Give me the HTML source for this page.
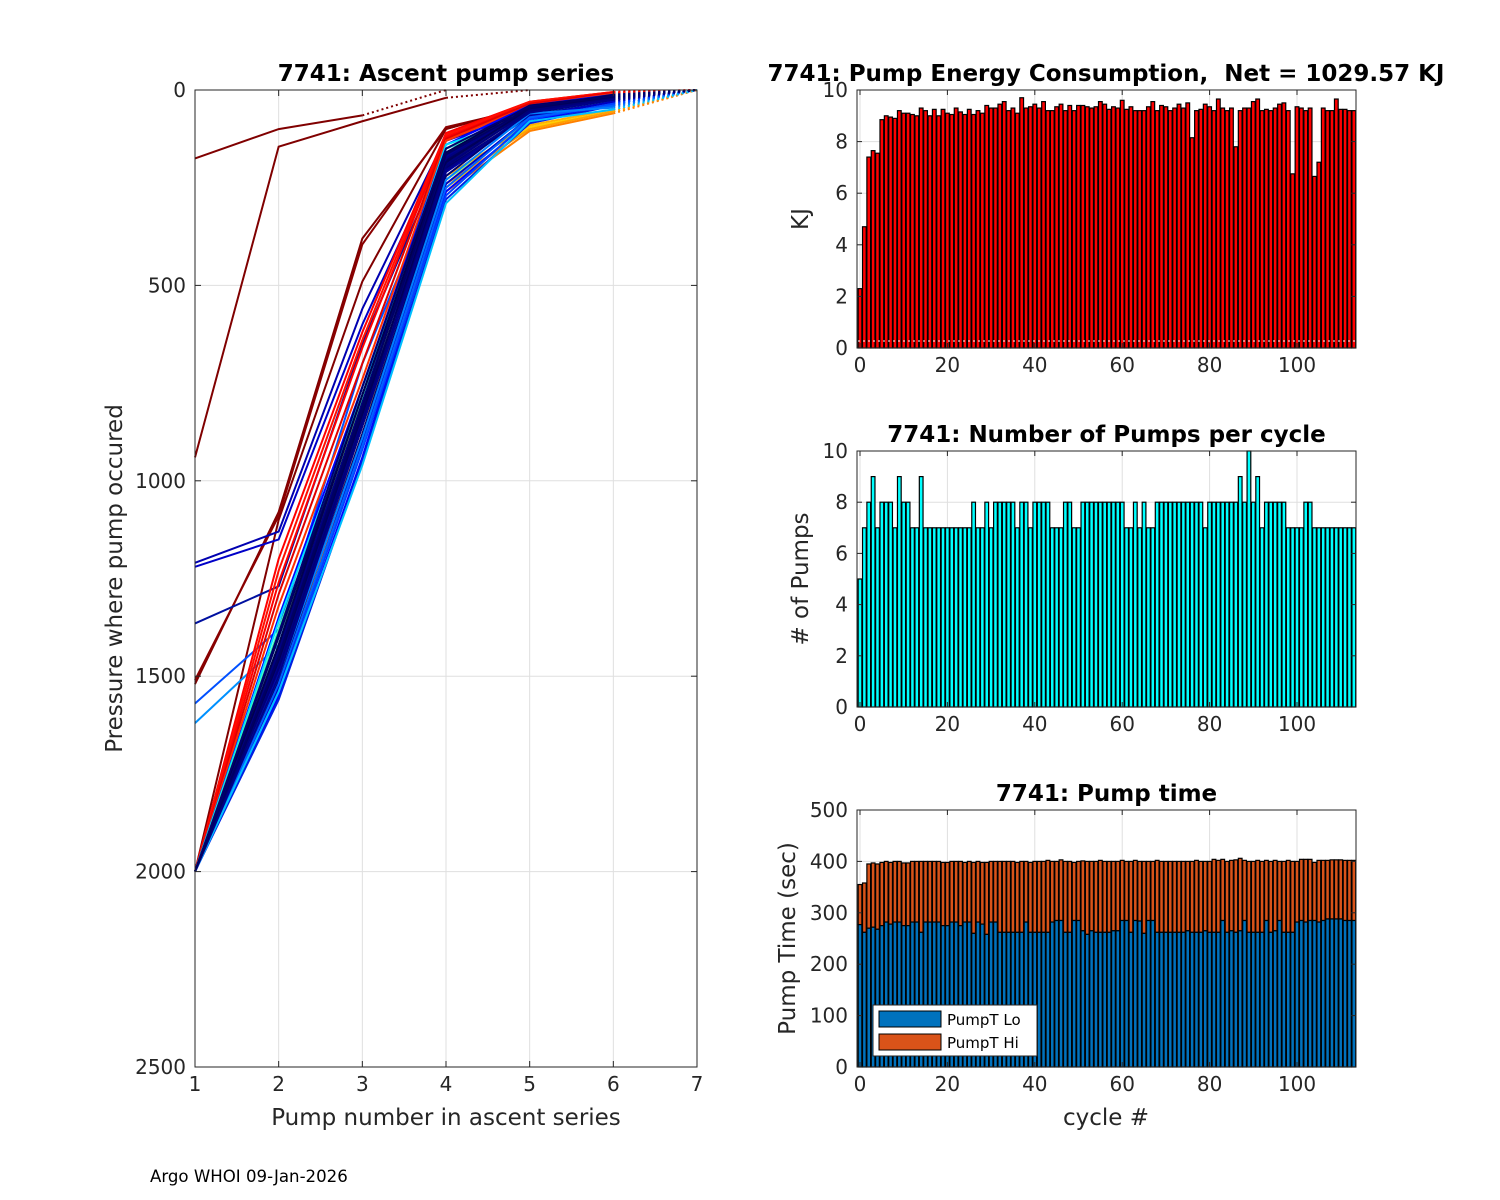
<!DOCTYPE html>
<html><head><meta charset="utf-8">
<style>
body{margin:0;background:#fff;}
svg{display:block;font-family:"DejaVu Sans","Liberation Sans",sans-serif;}
.tk{font-size:20px;fill:#262626;}
.tt{font-size:23px;font-weight:bold;fill:#000;}
.lb{font-size:23px;fill:#262626;}
</style></head>
<body>
<svg id="fig" width="1500" height="1200" viewBox="0 0 1500 1200" xmlns="http://www.w3.org/2000/svg">
<rect width="1500" height="1200" fill="#fff"/>
<g id="left"></g>
<g id="energy"></g>
<g id="pumps"></g>
<g id="ptime"></g>
<text x="150" y="1182" font-size="16.6" fill="#000">Argo WHOI 09-Jan-2026</text>
</svg>
<script>
// ---- data ----
const energyVals=[2.3,4.7,7.4,7.65,7.55,8.85,9.0,8.95,8.9,9.2,9.1,9.1,9.05,9.0,9.3,9.2,9.0,9.25,9.0,9.25,9.1,9.05,9.3,9.15,9.05,9.25,9.05,9.2,9.1,9.4,9.3,9.3,9.45,9.55,9.2,9.3,9.1,9.7,9.3,9.35,9.45,9.3,9.55,9.2,9.2,9.35,9.45,9.2,9.4,9.2,9.4,9.4,9.35,9.3,9.35,9.55,9.45,9.25,9.35,9.3,9.6,9.25,9.35,9.2,9.2,9.2,9.35,9.55,9.2,9.4,9.35,9.2,9.3,9.45,9.3,9.5,8.15,9.2,9.25,9.45,9.35,9.2,9.65,9.3,9.2,9.3,7.8,9.2,9.3,9.3,9.55,9.65,9.2,9.25,9.2,9.3,9.45,9.5,9.2,6.75,9.35,9.3,9.2,9.3,6.65,7.2,9.3,9.2,9.2,9.65,9.25,9.25,9.2,9.2];
const pumpsVals=[5,7,8,9,7,8,8,8,7,9,8,8,7,7,9,7,7,7,7,7,7,7,7,7,7,7,8,7,7,8,7,8,8,8,8,8,7,8,8,7,8,8,8,8,7,7,7,8,8,7,7,8,8,8,8,8,8,8,8,8,8,7,7,8,7,8,7,7,8,8,8,8,8,8,8,8,8,8,8,7,8,8,8,8,8,8,8,9,8,10,8,9,7,8,8,8,8,8,7,7,7,7,8,8,7,7,7,7,7,7,7,7,7,7];
const pumpLo=[277,262,270,272,268,275,282,278,282,282,275,275,282,282,262,282,282,282,282,275,275,282,282,275,282,282,260,282,278,258,282,282,262,262,262,262,262,262,282,262,262,262,262,262,282,285,285,262,262,285,285,265,258,265,262,262,262,262,265,265,285,285,262,285,284,260,285,285,262,262,262,262,262,262,262,265,262,262,262,265,262,262,262,285,262,265,262,265,285,262,262,262,262,285,262,265,285,262,262,262,282,285,282,285,285,282,285,288,288,288,288,285,285,285];
const pumpTot=[355,358,395,397,395,398,400,398,400,400,397,397,400,400,400,400,400,400,400,398,398,400,400,400,398,400,398,400,398,398,400,400,400,400,400,400,398,400,400,398,400,400,400,402,400,400,403,400,400,398,400,401,400,400,400,402,400,400,400,400,402,400,400,402,400,400,400,400,402,400,400,400,400,400,400,400,400,402,400,400,400,404,402,404,400,402,403,406,402,400,400,402,400,402,400,402,400,400,402,400,400,404,404,404,398,402,402,402,403,403,403,402,402,402];
const energyTicks=[0,2,4,6,8,10];
const pumpTicks=[0,2,4,6,8,10];
const timeTicks=[0,100,200,300,400,500];
const cycleTicks=[0,20,40,60,80,100];
const pumpNumTicks=[1,2,3,4,5,6,7];
const pressTicks=[0,500,1000,1500,2000,2500];
const profColors=["#800000","#800000","#800000","#8b0000","#800000","#0000b0","#0000c8","#0010a0","#0050ff","#0090ff",
"#ff0000","#ff1000","#ff0000","#e00000","#ff3000","#0000ff","#0030ff","#00a0ff","#00e0ff","#40ffb0","#a0ff60","#ffd000","#ffa000","#ff8000","#ffb000",
"#000060","#000080","#00006a","#000090","#0000a0","#000070","#0000c0","#0000ff","#0020e0","#0040ff","#0060ff","#0080ff","#00c0ff","#000050","#000080","#00005a","#000078","#000088","#00006e","#000064"];
const profiles=[
[175,100,65],
[940,145,80,20],
[1520,1080,380,100,40,8],
[1510,1090,395,95,45,10],
[2000,1100,490,100,40,8],
[1210,1130,560,120,50,10],
[1220,1150,600,130,55,12],
[1365,1270,650,150,55,15],
[1570,1380,700,180,60,20],
[1620,1420,760,200,70,25],
[2000,1200,620,110,30,5],
[2000,1230,640,115,30,5],
[2000,1260,660,120,35,6],
[2000,1290,700,125,35,8],
[2000,1320,740,130,40,10],
[2000,1350,760,140,40,12],
[2000,1400,800,160,50,15],
[2000,1420,820,150,70,30],
[2000,1360,780,140,65,35],
[2000,1380,790,150,60,30],
[2000,1400,800,230,80,40],
[2000,1480,860,250,95,55],
[2000,1500,880,240,100,55],
[2000,1520,900,260,105,60],
[2000,1470,850,220,90,50],
[2000,1400,780,180,50,20],
[2000,1430,800,190,55,25],
[2000,1450,820,200,60,25],
[2000,1470,840,170,50,20],
[2000,1490,860,210,65,30],
[2000,1510,880,220,55,20],
[2000,1530,900,240,70,30],
[2000,1550,940,260,80,35],
[2000,1560,950,280,85,40],
[2000,1540,920,270,75,35],
[2000,1520,910,250,70,40],
[2000,1500,890,230,60,45],
[2000,1540,960,290,80,50],
[2000,1420,780,160,40,15],
[2000,1440,800,175,45,20],
[2000,1460,830,185,48,18],
[2000,1480,850,195,52,22],
[2000,1500,860,205,58,25],
[2000,1390,760,150,42,15],
[2000,1450,810,165,46,12]];
// ---- helpers ----
const NS="http://www.w3.org/2000/svg";
function mk(tag,attrs,parent){const e=document.createElementNS(NS,tag);for(const k in attrs)e.setAttribute(k,attrs[k]);parent.appendChild(e);return e;}
function txt(s,x,y,cls,anchor,parent,extra){const t=mk("text",Object.assign({x:x,y:y,class:cls,"text-anchor":anchor},extra||{}),parent);t.setAttribute("xml:space","preserve");t.style.whiteSpace="pre";t.textContent=s;return t;}

// ---- left chart ----
(function(){
const g=document.getElementById("left");
const L=195,R=697,T=90,B=1067;
const sx=v=>L+(v-1)/6*(R-L), sy=v=>T+v/2500*(B-T);
mk("rect",{x:L,y:T,width:R-L,height:B-T,fill:"#fff"},g);
pumpNumTicks.forEach(v=>{mk("line",{x1:sx(v),x2:sx(v),y1:T,y2:B,stroke:"#dfdfdf","stroke-width":1},g);});
pressTicks.forEach(v=>{mk("line",{x1:L,x2:R,y1:sy(v),y2:sy(v),stroke:"#dfdfdf","stroke-width":1},g);});
profiles.forEach((p,i)=>{
 const pts=p.map((v,j)=>sx(j+1)+","+sy(v)).join(" ");
 const pl=mk("polyline",{points:pts,fill:"none",stroke:profColors[i],"stroke-width":2},g);
 
 
 const n=p.length;
 const d=mk("line",{x1:sx(n),y1:sy(p[n-1]),x2:sx(n+1),y2:sy(0),stroke:profColors[i],"stroke-width":2,"stroke-dasharray":"2,3"},g);
 
 
});
mk("rect",{x:L,y:T,width:R-L,height:B-T,fill:"none",stroke:"#262626","stroke-width":1},g);
pumpNumTicks.forEach(v=>{mk("line",{x1:sx(v),x2:sx(v),y1:B,y2:B-6,stroke:"#262626"},g);mk("line",{x1:sx(v),x2:sx(v),y1:T,y2:T+6,stroke:"#262626"},g);txt(String(v),sx(v),B+24,"tk","middle",g);});
pressTicks.forEach(v=>{mk("line",{x1:L,x2:L+6,y1:sy(v),y2:sy(v),stroke:"#262626"},g);mk("line",{x1:R,x2:R-6,y1:sy(v),y2:sy(v),stroke:"#262626"},g);txt(String(v),L-9,sy(v)+7,"tk","end",g);});
txt("7741: Ascent pump series",(L+R)/2,81,"tt","middle",g);
txt("Pump number in ascent series",(L+R)/2,1125,"lb","middle",g);
txt("Pressure where pump occured",122,(T+B)/2,"lb","middle",g,{transform:"rotate(-90 122 "+((T+B)/2)+")"});
})();

// ---- bar chart helper ----
function barChart(id,T,B,ymax,ticks,series,title,ylab,opts){
 const g=document.getElementById(id);
 const L=857,R=1356;
 const sx=v=>860+v*4.37, sy=v=>B-v/ymax*(B-T);
 mk("rect",{x:L,y:T,width:R-L,height:B-T,fill:"#fff"},g);
 cycleTicks.forEach(v=>mk("line",{x1:sx(v),x2:sx(v),y1:T,y2:B,stroke:"#dfdfdf"},g));
 ticks.forEach(v=>mk("line",{x1:L,x2:R,y1:sy(v),y2:sy(v),stroke:"#dfdfdf"},g));
 const w=4.37*0.85;
 series.forEach(s=>{
  s.vals.forEach((v,i)=>{
   const b0=s.base?s.base[i]:0;
   const r=mk("rect",{x:sx(i)-w/2,y:sy(v),width:w,height:sy(b0)-sy(v),fill:s.color,stroke:"#000","stroke-width":1.2},g);
   
   
  });
 });
 mk("rect",{x:L,y:T,width:R-L,height:B-T,fill:"none",stroke:"#262626"},g);
 cycleTicks.forEach(v=>{mk("line",{x1:sx(v),x2:sx(v),y1:B,y2:B-5,stroke:"#262626"},g);mk("line",{x1:sx(v),x2:sx(v),y1:T,y2:T+5,stroke:"#262626"},g);txt(String(v),sx(v),B+24,"tk","middle",g);});
 ticks.forEach(v=>{mk("line",{x1:L,x2:L+5,y1:sy(v),y2:sy(v),stroke:"#262626"},g);mk("line",{x1:R,x2:R-5,y1:sy(v),y2:sy(v),stroke:"#262626"},g);txt(String(v),L-9,sy(v)+7,"tk","end",g);});
 txt(title,opts.tx||(L+R)/2,T-9,"tt","middle",g);
 txt(ylab,opts.ylx,(T+B)/2,"lb","middle",g,{transform:"rotate(-90 "+opts.ylx+" "+((T+B)/2)+")"});
 return {g,sx,sy};
}
barChart("energy",90,348,10,energyTicks,[{vals:energyVals,color:"#ff0000",name:"energy-bar"}],"7741: Pump Energy Consumption,  Net = 1029.57 KJ","KJ",{ylx:808,tx:1106});
(function(){const g=document.getElementById("energy");mk("line",{x1:858,x2:1355,y1:341,y2:341,stroke:"#fff","stroke-width":1,"stroke-dasharray":"2,3"},g);})();
barChart("pumps",451,707,10,pumpTicks,[{vals:pumpsVals,color:"#00ffff",name:"pumps-bar"}],"7741: Number of Pumps per cycle","# of Pumps",{ylx:808});
barChart("ptime",810,1067,500,timeTicks,[{vals:pumpTot,base:pumpLo,color:"#d95319",name:"pumpt-hi-bar"},{vals:pumpLo,color:"#0072bd",name:"pumpt-lo-bar"}],"7741: Pump time","Pump Time (sec)",{ylx:795});
(function(){const g=document.getElementById("ptime");
txt("cycle #",1106,1125,"lb","middle",g);
const lg=mk("g",{},g);
mk("rect",{x:873,y:1005,width:164,height:51,fill:"#fff",stroke:"#262626"},lg);
mk("rect",{x:879,y:1011,width:62,height:16,fill:"#0072bd",stroke:"#000"},lg);
mk("rect",{x:879,y:1034,width:62,height:16,fill:"#d95319",stroke:"#000"},lg);
txt("PumpT Lo",947,1025,"","start",lg,{"font-size":"15"});
txt("PumpT Hi",947,1048,"","start",lg,{"font-size":"15"});
})();
</script>
</body></html>
